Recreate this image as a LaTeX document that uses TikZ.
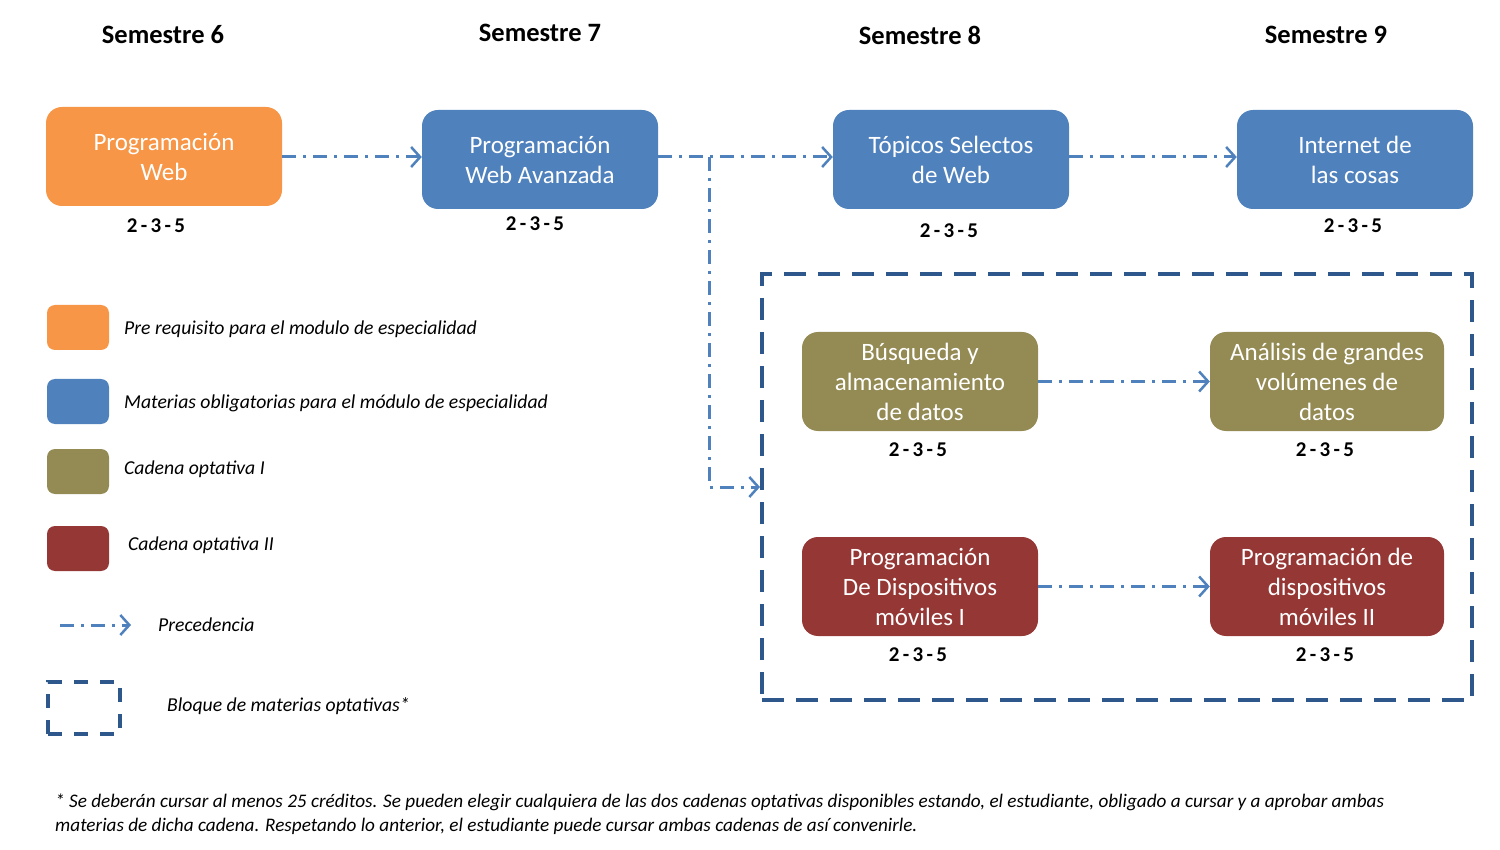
\documentclass[tikz,border=0pt]{standalone}
\usepackage{fontspec}
\setmainfont{Carlito}
\newfontfamily\credfont[LetterSpace=16]{Carlito}
\usetikzlibrary{arrows.meta}
\definecolor{orng}{RGB}{247,150,70}
\definecolor{blu}{RGB}{79,129,189}
\definecolor{olv}{RGB}{148,138,84}
\definecolor{rd}{RGB}{149,55,53}
\definecolor{dblu}{RGB}{46,88,140}
\definecolor{arrblu}{RGB}{79,129,189}
\tikzset{
  course/.style={rounded corners=16pt, minimum width=236pt, minimum height=99pt,
    inner sep=0pt, align=center, text=white, font=\fontsize{25}{30}\selectfont},
  semhead/.style={font=\fontsize{26.5}{30}\selectfont\bfseries, anchor=center},
  credit/.style={font=\fontsize{21}{25}\selectfont\credfont\bfseries},
  legsq/.style={rounded corners=8pt, minimum width=62pt, minimum height=45pt, inner sep=0pt},
  legtxt/.style={font=\fontsize{19.7}{22}\selectfont\itshape, anchor=west, inner sep=0pt},
  prec/.style={draw=arrblu, line width=3pt, dash pattern=on 14pt off 7pt on 3pt off 7pt,
    -{Straight Barb[length=9pt,width=20pt,line width=2.5pt]}},
  optblock/.style={draw=dblu, line width=4pt, dash pattern=on 22pt off 12pt},
  foot/.style={font=\fontsize{19.2}{24}\selectfont\itshape, anchor=west, inner sep=0pt}
}
\begin{document}
\begin{tikzpicture}[x=1pt,y=-1pt]
\useasboundingbox (0,0) rectangle (1500,850);

% semester headers
\node[semhead] (s6) at (163,35) {Semestre 6};
\node[semhead] (s7) at (540,33) {Semestre 7};
\node[semhead] (s8) at (920,35) {Semestre 8};
\node[semhead] (s9) at (1326,35) {Semestre 9};

% optional block
\node[optblock, minimum width=710pt, minimum height=426pt, inner sep=0pt] (opt) at (1117,487) {};

% courses
\node[course, fill=orng] (pw) at (164,156.5) {Programación\\Web};
\node[course, fill=blu] (pwa) at (540,159.5) {Programación\\Web Avanzada};
\node[course, fill=blu] (tsw) at (951,159.5) {Tópicos Selectos\\de Web};
\node[course, fill=blu] (iot) at (1355,159.5) {Internet de\\las cosas};
\node[course, fill=olv] (bad) at (920,381.5) {Búsqueda y\\almacenamiento\\de datos};
\node[course, fill=olv, minimum width=234pt] (adg) at (1327,381.5) {Análisis de grandes\\volúmenes de\\datos};
\node[course, fill=rd] (pdm1) at (920,586.5) {Programación\\De Dispositivos\\móviles I};
\node[course, fill=rd, minimum width=234pt] (pdm2) at (1327,586.5) {Programación de\\dispositivos\\móviles II};

% credits
\node[credit] (c1) at (156,226) {2-3-5};
\node[credit] (c2) at (535,224) {2-3-5};
\node[credit] (c3) at (949,231) {2-3-5};
\node[credit] (c4) at (1353,226) {2-3-5};
\node[credit] (c5) at (918,450) {2-3-5};
\node[credit] (c6) at (1325,450) {2-3-5};
\node[credit] (c7) at (918,655) {2-3-5};
\node[credit] (c8) at (1325,655) {2-3-5};

% precedence arrows
\draw[prec] (pw.east |- 0,157) -- (pwa.west |- 0,157);
\draw[prec] (pwa.east |- 0,157) -- (tsw.west |- 0,157);
\draw[prec] (tsw.east |- 0,157) -- (iot.west |- 0,157);
\coordinate (br) at (709,157);
\draw[prec] (br) |- (opt.west);
\draw[prec] (bad) -- (adg);
\draw[prec] (pdm1) -- (pdm2);

% legend
\node[legsq, fill=orng] (l1) at (78,327.5) {};
\node[legsq, fill=blu] (l2) at (78,401.5) {};
\node[legsq, fill=olv] (l3) at (78,471.5) {};
\node[legsq, fill=rd] (l4) at (78,548.5) {};
\node[legtxt] (t1) at (124,329) {Pre requisito para el modulo de especialidad};
\node[legtxt] (t2) at (124,403) {Materias obligatorias para el módulo de especialidad};
\node[legtxt] (t3) at (124,469) {Cadena optativa I};
\node[legtxt] (t4) at (128,545) {Cadena optativa II};
\coordinate (pa) at (60,625);
\coordinate (pb) at (131,625);
\draw[prec] (pa) -- (pb);
\node[legtxt] (t5) at (158,625) {Precedencia};
\node[optblock, minimum width=72pt, minimum height=52pt, inner sep=0pt, dash pattern=on 14pt off 12pt] (lb) at (84,708) {};
\node[legtxt] (t6) at (167,706) {Bloque de materias optativas*};

% footnote
\node[foot] (f1) at (55,802) {* Se deberán cursar al menos 25 créditos. Se pueden elegir cualquiera de las dos cadenas optativas disponibles estando, el estudiante, obligado a cursar y a aprobar ambas};
\node[foot] (f2) at (55,826) {materias de dicha cadena. Respetando lo anterior, el estudiante puede cursar ambas cadenas de así convenirle.};
\end{tikzpicture}
\end{document}
